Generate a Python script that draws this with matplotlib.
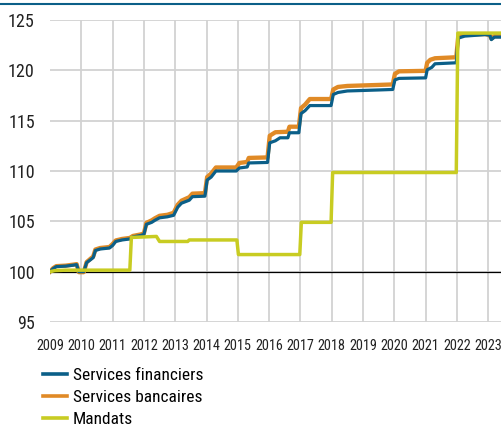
import matplotlib.pyplot as plt
from matplotlib.lines import Line2D
from matplotlib import font_manager

# --- data (index, 2009 = 100) ---
fin_t = [2009.0, 2009.1, 2009.2, 2009.5, 2009.75, 2009.85, 2009.92, 2010.08, 2010.17, 2010.3,
         2010.38, 2010.45, 2010.6, 2010.9, 2011.0, 2011.1, 2011.3, 2011.55, 2011.65, 2011.9,
         2012.0, 2012.08, 2012.25, 2012.35, 2012.5, 2012.75, 2012.95, 2013.08, 2013.2, 2013.45,
         2013.55, 2013.95, 2014.02, 2014.15, 2014.3, 2014.95, 2015.05, 2015.3, 2015.35, 2015.95,
         2016.02, 2016.2, 2016.35, 2016.6, 2016.65, 2016.95, 2017.02, 2017.15, 2017.3, 2017.98,
         2018.05, 2018.2, 2018.5, 2019.0, 2019.5, 2019.95, 2020.02, 2020.15, 2021.0, 2021.05,
         2021.2, 2021.3, 2021.98, 2022.04, 2022.25, 2022.9, 2023.05, 2023.1, 2023.2, 2023.5]
fin_v = [100.0, 100.3, 100.5, 100.55, 100.65, 100.7, 100.0, 100.0, 100.9, 101.2,
         101.4, 102.1, 102.25, 102.35, 102.6, 103.0, 103.15, 103.25, 103.45, 103.6,
         103.7, 104.7, 104.9, 105.1, 105.35, 105.45, 105.6, 106.4, 106.8, 107.1,
         107.45, 107.5, 109.1, 109.4, 110.0, 110.0, 110.3, 110.4, 110.8, 110.85,
         112.8, 113.0, 113.3, 113.3, 113.8, 113.8, 115.7, 116.0, 116.5, 116.5,
         117.6, 117.8, 117.95, 118.0, 118.05, 118.1, 119.05, 119.2, 119.25, 120.05,
         120.3, 120.65, 120.75, 123.2, 123.4, 123.55, 123.5, 123.05, 123.3, 123.3]

ban_t = [2009.0, 2009.1, 2009.2, 2009.5, 2009.75, 2009.85, 2009.92, 2010.08, 2010.17, 2010.3,
         2010.38, 2010.45, 2010.6, 2010.9, 2011.0, 2011.1, 2011.3, 2011.55, 2011.65, 2011.9,
         2012.0, 2012.08, 2012.25, 2012.35, 2012.5, 2012.75, 2012.95, 2013.08, 2013.2, 2013.45,
         2013.55, 2013.95, 2014.02, 2014.15, 2014.3, 2014.95, 2015.05, 2015.3, 2015.35, 2015.95,
         2016.02, 2016.2, 2016.6, 2016.65, 2016.95, 2017.02, 2017.15, 2017.3, 2017.98,
         2018.05, 2018.2, 2018.5, 2019.0, 2019.5, 2019.95, 2020.02, 2020.15, 2021.0, 2021.05,
         2021.15, 2021.3, 2021.98, 2022.04, 2022.25, 2022.9, 2023.05, 2023.1, 2023.2, 2023.5]
ban_v = [100.0, 100.35, 100.55, 100.6, 100.7, 100.75, 99.95, 99.95, 100.95, 101.3,
         101.5, 102.2, 102.35, 102.45, 102.75, 103.1, 103.25, 103.35, 103.55, 103.7,
         103.8, 104.85, 105.1, 105.3, 105.55, 105.65, 105.85, 106.65, 107.05, 107.4,
         107.75, 107.8, 109.4, 109.75, 110.35, 110.35, 110.8, 110.9, 111.3, 111.35,
         113.5, 113.85, 113.9, 114.4, 114.4, 116.25, 116.6, 117.15, 117.15,
         118.1, 118.35, 118.45, 118.5, 118.55, 118.6, 119.65, 119.9, 119.95, 120.75,
         121.05, 121.2, 121.3, 123.3, 123.55, 123.6, 123.5, 123.15, 123.4, 123.4]

man_t = [2009.0, 2009.15, 2009.5, 2011.55, 2011.6, 2012.4, 2012.5, 2013.4, 2013.45, 2014.97,
         2015.02, 2016.98, 2017.03, 2017.98, 2018.03, 2021.98, 2022.03, 2023.5]
man_v = [100.0, 100.1, 100.15, 100.15, 103.4, 103.5, 103.0, 103.0, 103.15, 103.15,
         101.7, 101.7, 104.9, 104.9, 109.85, 109.85, 123.7, 123.7]

labels = ['Services financiers', 'Services bancaires', 'Mandats']
colors = ['#0b5f88', '#e08a26', '#c8cc22']
years = list(range(2009, 2024))
yticks = [95, 100, 105, 110, 115, 120, 125]

# condensed face, closest to the original
names = {f.name for f in font_manager.fontManager.ttflist}
wanted = ['Liberation Sans Narrow', 'Roboto Condensed', 'Archivo Narrow',
          'Asap Condensed', 'Barlow Semi Condensed']
font = next((n for n in wanted if n in names), 'DejaVu Sans')
plt.rcParams['font.family'] = [font, 'DejaVu Sans']

fig = plt.figure(figsize=(5.02, 4.25), dpi=100)
ax = fig.add_axes([50 / 502, 1 - 322 / 425, 452 / 502, 302 / 425])

ax.plot(ban_t, ban_v, color=colors[1], lw=3.1, solid_joinstyle='round', zorder=3)
ax.plot(fin_t, fin_v, color=colors[0], lw=2.3, solid_joinstyle='round', zorder=4)
ax.plot(man_t, man_v, color=colors[2], lw=2.5, solid_joinstyle='round', zorder=5)
ax.axhline(100, color='black', lw=0.9, zorder=2)

ax.set_xlim(2009, 2009 + 452 / 31.3)
ax.set_ylim(95, 125)
for y in yticks:
    ax.axhline(y, color='#d2d2d2', lw=1.3, zorder=1)
for x in years[1:]:
    ax.axvline(x, color='#d2d2d2', lw=1.3, zorder=1)

ax.set_xticks(years)
ax.set_xticklabels([str(y) for y in years], fontsize=10.3, color='#222222')
ax.set_yticks(yticks)
ax.set_yticklabels([str(y) for y in yticks], fontsize=13, color='#222222')
ax.tick_params(axis='both', length=0)
ax.tick_params(axis='y', pad=11)
ax.tick_params(axis='x', pad=12)
for s in ax.spines.values():
    s.set_visible(False)

# thin rule at the top of the panel
fig.add_artist(Line2D([0, 1], [1 - 4 / 425, 1 - 4 / 425], color=colors[0], lw=1.5))

handles = [Line2D([], [], color=c, lw=2.6) for c in colors]
fig.legend(handles, labels, loc='upper left', bbox_to_anchor=(43 / 502, 1 - 368 / 425),
           frameon=False, fontsize=12.5, handlelength=1.38, handletextpad=0.35,
           labelspacing=0.4, borderpad=0, borderaxespad=0)

fig.savefig('out.png', dpi=100)
